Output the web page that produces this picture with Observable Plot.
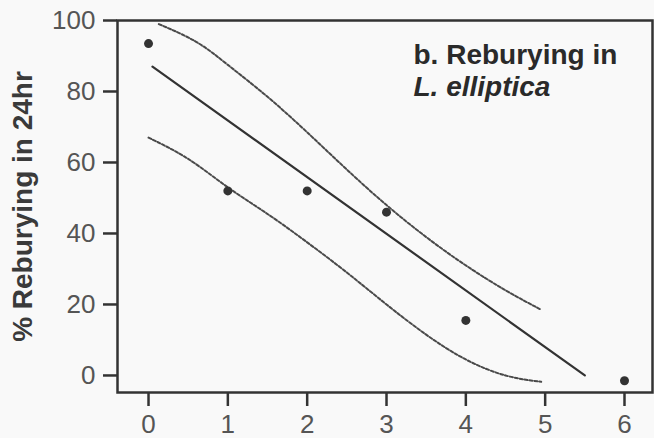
<!DOCTYPE html>
<html>
<head>
<meta charset="utf-8">
<script src="https://cdn.jsdelivr.net/npm/d3@7"></script>
<script src="https://cdn.jsdelivr.net/npm/@observablehq/plot@0.6"></script>
<style>
  html, body { margin: 0; padding: 0; background: #f9f9f9; }
  svg { display: block; }
</style>
</head>
<body>
<div id="chart"></div>
<script>
// Observed points
const pointX = [0, 1, 2, 3, 4, 6];
const pointY = [93.5, 52, 52, 46, 15.5, -1.5];

// Fitted regression line
const fitX = [0.05, 5.5];
const fitY = [87, 0];

// Upper confidence band
const upperX = [0.13, 0.6, 1.0, 1.5, 2.0, 2.5, 3.0, 3.5, 4.0, 4.5, 4.95];
const upperY = [99, 94, 87.5, 78.5, 68.5, 58, 48, 39, 31, 24, 18.5];

// Lower confidence band
const lowerX = [0, 0.5, 1.0, 1.5, 2.0, 2.5, 3.0, 3.5, 4.0, 4.5, 4.95];
const lowerY = [67, 61, 53, 45.5, 37.5, 29, 20, 11.5, 4.5, 0, -1.8];

// Ticks and labels
const xTicks = [0, 1, 2, 3, 4, 5, 6];
const yTicks = [0, 20, 40, 60, 80, 100];
const yLabel = "% Reburying in 24hr";
const titleLine1 = "b. Reburying in";
const titleLine2 = "L. elliptica";

const points = pointX.map((x, i) => ({x, y: pointY[i]}));
const fit = fitX.map((x, i) => ({x, y: fitY[i]}));
const upper = upperX.map((x, i) => ({x, y: upperY[i]}));
const lower = lowerX.map((x, i) => ({x, y: lowerY[i]}));

const ink = "#333";
const chart = Plot.plot({
  width: 654,
  height: 438,
  marginLeft: 117,
  marginRight: 2,
  marginTop: 20,
  marginBottom: 46,
  style: {background: "#f9f9f9", fontFamily: "'Liberation Sans', Arial, Helvetica, sans-serif", color: ink},
  x: {domain: [-0.391, 6.353]},
  y: {domain: [-4.8, 100]},
  marks: [
    Plot.axisX({ticks: xTicks, tickSize: 14, tickPadding: 8, fontSize: 26, stroke: ink, strokeWidth: 2.5, fill: "#555", label: null, tickFormat: d => String(d)}),
    Plot.axisY({ticks: yTicks, tickSize: 14, tickPadding: 8, fontSize: 26, stroke: ink, strokeWidth: 2.5, fill: "#555", label: null, tickFormat: d => String(d)}),
    Plot.frame({stroke: ink, strokeWidth: 2.5}),
    Plot.line(upper, {x: "x", y: "y", curve: "natural", stroke: "#4a4a4a", strokeWidth: 2, strokeDasharray: "3,2"}),
    Plot.line(lower, {x: "x", y: "y", curve: "natural", stroke: "#4a4a4a", strokeWidth: 2, strokeDasharray: "3,2"}),
    Plot.line(fit, {x: "x", y: "y", stroke: ink, strokeWidth: 2.2}),
    Plot.dot(points, {x: "x", y: "y", r: 4.5, fill: ink, stroke: "none"}),
    Plot.text([yLabel], {frameAnchor: "left", dx: -94, rotate: -90, textAnchor: "middle", lineAnchor: "middle", fontSize: 28, fontWeight: "bold", fill: "#3a3a3a"}),
    Plot.text([titleLine1], {frameAnchor: "top-left", dx: 296, dy: 43, textAnchor: "start", lineAnchor: "bottom", fontSize: 28, fontWeight: "bold", fill: "#2a2a2a"}),
    Plot.text([titleLine2], {frameAnchor: "top-left", dx: 296, dy: 75, textAnchor: "start", lineAnchor: "bottom", fontSize: 28, fontWeight: "bold", fontStyle: "italic", fill: "#2a2a2a"})
  ]
});
document.getElementById("chart").appendChild(chart);
</script>
</body>
</html>
